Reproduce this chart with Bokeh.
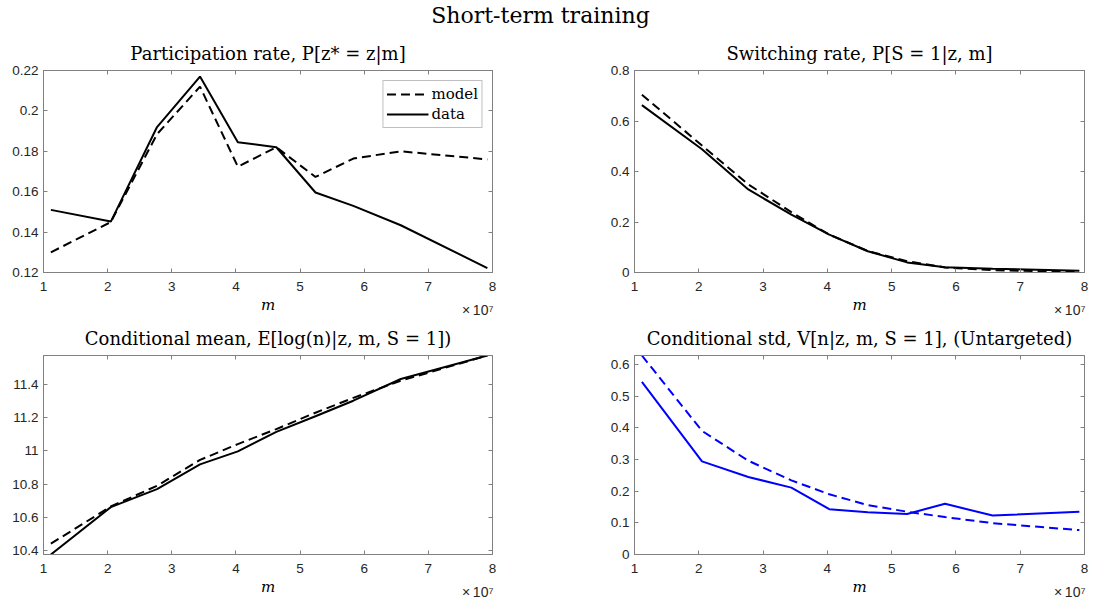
from bokeh.plotting import figure
from bokeh.models import Range1d, FixedTicker, LinearAxis, Label, Legend, LegendItem, Title
from bokeh.layouts import column, gridplot
from bokeh.embed import file_html
from bokeh.resources import INLINE

# ---------------- data ----------------
m_vals = [1.115e7, 2.05e7, 2.77e7, 3.44e7, 4.03e7, 4.63e7, 5.24e7, 5.83e7, 6.57e7, 7.92e7]

part_model = [0.130, 0.145, 0.1885, 0.212, 0.1724, 0.182, 0.1673, 0.1764, 0.180, 0.176]
part_data = [0.151, 0.1452, 0.192, 0.217, 0.1845, 0.182, 0.1596, 0.153, 0.1434, 0.1222]

switch_model = [0.704, 0.503, 0.349, 0.239, 0.150, 0.085, 0.045, 0.020, 0.009, 0.002]
switch_data = [0.663, 0.488, 0.329, 0.229, 0.150, 0.084, 0.040, 0.021, 0.015, 0.007]

mean_model = [10.443, 10.666, 10.790, 10.945, 11.040, 11.130, 11.228, 11.317, 11.420, 11.571]
mean_data = [10.378, 10.662, 10.770, 10.918, 10.996, 11.113, 11.207, 11.300, 11.430, 11.571]

std_model = [0.628, 0.390, 0.296, 0.234, 0.190, 0.156, 0.135, 0.118, 0.099, 0.077]
std_data = [0.545, 0.294, 0.2446, 0.211, 0.143, 0.133, 0.128, 0.160, 0.123, 0.135]

x_ticks = [1e7, 2e7, 3e7, 4e7, 5e7, 6e7, 7e7, 8e7]
x_tick_labels = ["1", "2", "3", "4", "5", "6", "7", "8"]
x_exponent = "×\u200910⁷"

part_ticks = [0.12, 0.14, 0.16, 0.18, 0.20, 0.22]
part_tick_labels = ["0.12", "0.14", "0.16", "0.18", "0.2", "0.22"]
switch_ticks = [0.0, 0.2, 0.4, 0.6, 0.8]
switch_tick_labels = ["0", "0.2", "0.4", "0.6", "0.8"]
mean_ticks = [10.4, 10.6, 10.8, 11.0, 11.2, 11.4]
mean_tick_labels = ["10.4", "10.6", "10.8", "11", "11.2", "11.4"]
std_ticks = [0.0, 0.1, 0.2, 0.3, 0.4, 0.5, 0.6]
std_tick_labels = ["0", "0.1", "0.2", "0.3", "0.4", "0.5", "0.6"]

titles = [
    "Participation rate, P[z* = z|m]",
    "Switching rate, P[S = 1|z, m]",
    "Conditional mean, E[log(n)|z, m, S = 1])",
    "Conditional std, V[n|z, m, S = 1], (Untargeted)",
]

# ---------------- styling ----------------
AX = "#262626"
FRAME = "#808080"
TICK_FONT = "Liberation Sans"
SERIF = "DejaVu Serif"
DASH = "9 5"
LW = 2


def style_axis(ax, ticks, labels, show):
    ax.ticker = FixedTicker(ticks=ticks)
    ax.major_tick_in = 4
    ax.major_tick_out = 0
    ax.minor_tick_line_color = None
    ax.axis_line_color = FRAME
    ax.major_tick_line_color = FRAME
    ax.major_tick_line_width = 1
    if show:
        ax.major_label_overrides = {t: l for t, l in zip(ticks, labels)}
        ax.major_label_text_font = TICK_FONT
        ax.major_label_text_font_size = "13.5px"
        ax.major_label_text_color = AX
    else:
        ax.major_label_overrides = {t: "" for t in ticks}
        ax.major_label_text_color = None
        ax.major_label_standoff = 0


def make_panel(width, height, lb, rb, tb, bb, title, y0, y1, yticks, ylabels, series, color):
    p = figure(width=width, height=height, output_backend="svg", toolbar_location=None,
               x_range=Range1d(1e7, 8e7), y_range=Range1d(y0, y1),
               min_border_left=lb, min_border_right=rb, min_border_top=tb, min_border_bottom=bb,
               title=title)
    p.grid.visible = False
    p.outline_line_color = FRAME
    p.outline_line_width = 1
    p.title.text_font = SERIF
    p.title.text_font_style = "normal"
    p.title.text_font_size = "18px"
    p.title.text_color = "black"
    p.title.align = "center"
    p.title.standoff = 14

    style_axis(p.xaxis[0], x_ticks, x_tick_labels, True)
    style_axis(p.yaxis[0], yticks, ylabels, True)
    p.xaxis[0].major_label_standoff = 9
    p.yaxis[0].major_label_standoff = 5
    p.xaxis[0].axis_label = "m"
    p.xaxis[0].axis_label_text_font = SERIF
    p.xaxis[0].axis_label_text_font_style = "italic"
    p.xaxis[0].axis_label_text_font_size = "15px"
    p.xaxis[0].axis_label_text_color = "black"
    p.xaxis[0].axis_label_standoff = 2

    top = LinearAxis()
    style_axis(top, x_ticks, x_tick_labels, False)
    p.add_layout(top, "above")
    right = LinearAxis()
    style_axis(right, yticks, ylabels, False)
    p.add_layout(right, "right")

    renderers = []
    for ys, dash in series:
        r = p.line(m_vals, ys, line_color=color, line_width=LW, line_dash=dash)
        renderers.append(r)

    # exponent note under the right end of the x axis
    exp = Title(text=x_exponent, align="right", vertical_align="top", standoff=-30, offset=-1,
                text_font=TICK_FONT, text_font_size="14px", text_font_style="normal",
                text_color=AX)
    p.add_layout(exp, "below")
    return p, renderers


LB_L, RB_L = 43, 20
LB_R, RB_R = 122, 9
W_L, W_R = 512, 581
H_TITLE = 28
H_T, H_B = 290, 283
TB_T, BB_T = 42, 46
TB_B, BB_B = 35, 47

p1, r1 = make_panel(W_L, H_T, LB_L, RB_L, TB_T, BB_T, titles[0], 0.12, 0.22,
                    part_ticks, part_tick_labels,
                    [(part_model, DASH), (part_data, "solid")], "black")
legend = Legend(items=[LegendItem(label="model", renderers=[r1[0]]),
                       LegendItem(label="data", renderers=[r1[1]])],
                location="top_right")
legend.label_text_font = SERIF
legend.label_text_font_size = "15px"
legend.label_text_color = "black"
legend.glyph_width = 42
legend.glyph_height = 20
legend.label_height = 20
legend.label_standoff = 3
legend.padding = 3
legend.spacing = 0
legend.margin = 10
legend.border_line_color = FRAME
legend.border_line_width = 1
legend.background_fill_color = "white"
legend.background_fill_alpha = 1
p1.add_layout(legend)

p2, _ = make_panel(W_R, H_T, LB_R, RB_R, TB_T, BB_T, titles[1], 0.0, 0.8,
                   switch_ticks, switch_tick_labels,
                   [(switch_model, DASH), (switch_data, "solid")], "black")

mean_lo = min(mean_model + mean_data)
mean_hi = max(mean_model + mean_data)
p3, _ = make_panel(W_L, H_B, LB_L, RB_L, TB_B, BB_B, titles[2], mean_lo, mean_hi,
                   mean_ticks, mean_tick_labels,
                   [(mean_model, DASH), (mean_data, "solid")], "black")

std_hi = max(std_model + std_data)
p4, _ = make_panel(W_R, H_B, LB_R, RB_R, TB_B, BB_B, titles[3], 0.0, std_hi,
                   std_ticks, std_tick_labels,
                   [(std_model, DASH), (std_data, "solid")], "#0000ff")

# main title strip
tfig = figure(width=W_L + W_R, height=H_TITLE, output_backend="svg", toolbar_location=None,
              x_range=Range1d(0, W_L + W_R), y_range=Range1d(0, H_TITLE),
              x_axis_location=None, y_axis_location=None, min_border=0)
tfig.grid.visible = False
tfig.outline_line_color = None
tfig.add_layout(Label(x=540, y=13, text="Short-term training", text_align="center",
                      text_baseline="alphabetic", text_font=SERIF, text_font_size="22px",
                      text_color="black"))

grid = gridplot([[p1, p2], [p3, p4]], toolbar_location=None)
layout = column(tfig, grid)

open("out.html", "w").write(file_html(layout, INLINE))
